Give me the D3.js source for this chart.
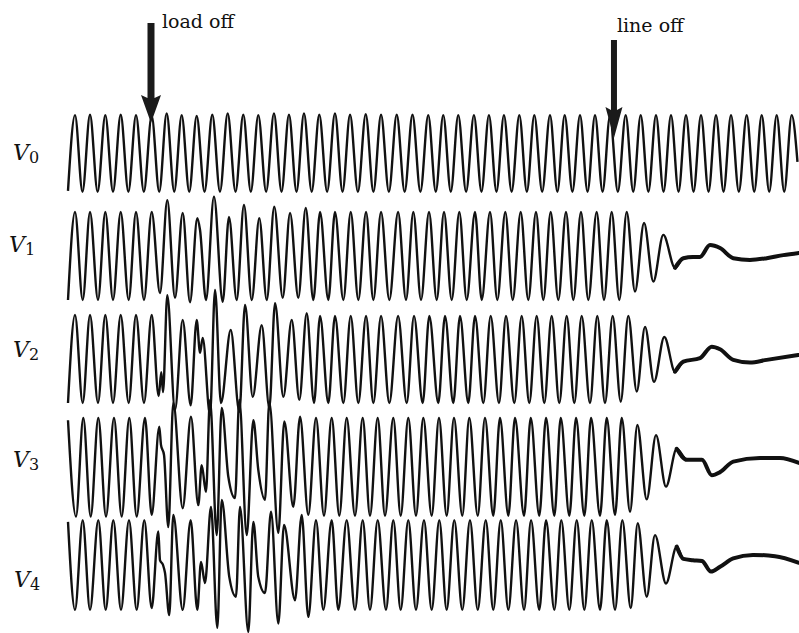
<!DOCTYPE html>
<html>
<head>
<meta charset="utf-8">
<script src="https://cdn.jsdelivr.net/npm/d3@7"></script>
<style>
  body { margin: 0; background: #fff; }
  svg { display: block; }
</style>
</head>
<body>
<div id="chart"></div>
<script>
// time in ms from start of record, voltage in per unit (extrema)
const traceNames = ["0", "1", "2", "3", "4"];

const v0 = [[0,-0.86],[9.2,0.86],[19,-0.88],[28.9,0.87],[38.9,-0.88],[49,0.86],[59.1,-0.88],[69.2,0.87],[79.3,-0.88],[89.3,0.86],[99.6,-0.88],[109.9,0.84],[119.8,-0.88],[129.6,0.9],[139.5,-0.88],[149.3,0.86],[159.2,-0.88],[169,0.84],[179.3,-0.88],[189.5,0.87],[199.6,-0.88],[209.7,0.9],[220,-0.88],[230.2,0.87],[240.1,-0.88],[249.9,0.86],[260.2,-0.88],[270.5,0.9],[280.4,-0.88],[290.2,0.87],[300.1,-0.88],[309.9,0.9],[320,-0.88],[330,0.87],[340.3,-0.88],[350.6,0.9],[360.5,-0.88],[370.4,0.87],[380.7,-0.88],[391,0.88],[401.1,-0.88],[411.1,0.87],[421.4,-0.88],[431.7,0.87],[442.1,-0.88],[452.4,0.87],[462.8,-0.88],[473.1,0.86],[483,-0.88],[492.8,0.86],[502.7,-0.88],[512.5,0.86],[522.8,-0.88],[533.1,0.86],[543,-0.88],[552.8,0.86],[562.7,-0.88],[572.5,0.86],[582.6,-0.88],[592.7,0.86],[602.6,-0.88],[612.4,0.86],[622.7,-0.88],[633,0.86],[642.7,-0.88],[652.3,0.86],[662.4,-0.88],[672.4,0.86],[682.3,-0.88],[692.1,0.86],[702,-0.88],[711.8,0.84],[722.1,-0.88],[732.4,0.86],[742.3,-0.88],[752.1,0.86],[762.2,-0.88],[772.2,0.86],[782.1,-0.88],[791.9,0.86],[801.8,-0.88],[811.6,0.86],[821.5,-0.88],[831.3,0.86],[841.2,-0.88],[851,0.86],[860.9,-0.88],[870.7,0.86],[881,-0.88],[891.3,0.86],[901.2,-0.88],[911,0.86],[920.9,-0.88],[930.7,0.86],[940.6,-0.88],[950.4,0.86],[958,-0.2]];

const v1 = [[0,-1],[9.2,1],[19.3,-1],[28.9,1],[39.4,-1],[49,1],[59.1,-1],[69.2,1],[79.7,-1],[89.3,1],[99.8,-1],[109.9,1],[120.8,-0.84],[130.4,1.27],[140.5,-0.95],[150.6,0.98],[160.2,-1.05],[169.8,0.86],[173.4,0.59],[181.2,-1],[191.7,1.35],[203.2,-1.04],[211.4,0.89],[221.5,-1],[231.1,1.16],[241.3,-1],[251.2,0.86],[261,-1],[270.9,1.12],[282,-0.95],[291.6,0.98],[302.5,-0.95],[312.2,1.09],[322.2,-1],[331,1],[341.9,-1],[350.6,1],[361.6,-1],[371.3,1],[381.3,-1],[391.4,1],[401,-1],[411.1,1],[422,-1],[433.5,1],[443.9,-1],[453.5,1],[463.6,-1],[474.1,1],[484.2,-1],[493.8,1],[503.9,-1],[513.9,1],[523.6,-1],[534.5,1],[543.3,-1],[554.2,1],[563.8,-1],[574.3,1],[584,-1],[594.5,1],[604.5,-1],[614.6,1],[624.2,-1],[633.9,1],[643.9,-1],[654,1],[663.6,-1],[673.7,1],[683.3,-1],[694.3,1],[703.9,-1],[714,1],[724,-1],[733.7,1],[744.6,-0.81],[756.5,0.75],[768.7,-0.58],[781.8,0.48],[797.2,-0.27],[808.1,-0.05],[820.8,-0.02],[830,-0.02],[843.1,0.25],[856.3,0.18],[873.7,-0.05],[895.6,-0.09],[917.6,-0.05],[939.4,0.02],[960,0.07]];

const v2 = [[0,-1],[9.2,1],[19.3,-1],[28.9,1],[39.4,-1],[49,1],[59.1,-1],[69.2,1],[79.7,-1],[89.3,1],[99.8,-1],[109.9,1],[119.1,-0.84],[122.5,-0.3],[124.8,-0.75],[130.4,1.45],[140.5,-1.16],[150.6,0.89],[161.1,-1.05],[169,0.89],[173.4,0.14],[176.9,0.48],[186.5,-1.27],[193.1,1.57],[200.9,-1],[213.7,0.66],[225,-1.2],[232.5,1.23],[242.6,-0.86],[254.4,0.77],[264.4,-1.11],[271.9,1.27],[282.8,-0.86],[293.8,0.89],[303.8,-0.93],[313.5,1.04],[323.1,-1],[331,0.98],[341.9,-1],[350.6,0.98],[361.6,-1],[371.3,0.98],[381.3,-1],[391.4,0.98],[401,-1],[411.1,0.98],[422,-1],[433.5,0.98],[444.8,-1],[454.4,0.98],[465.8,-1],[474.5,0.98],[486.3,-1],[495.1,0.98],[506,-1],[514.8,0.98],[525.7,-1],[534.5,0.98],[545.4,-1],[555.1,0.98],[566,-1],[575.2,0.98],[586.1,-1],[595.8,0.98],[605.8,-1],[615.5,0.98],[625.5,-1],[635.2,0.98],[645.2,-1],[654.9,0.98],[664.9,-1],[674.6,0.98],[685.5,-1],[695.1,0.98],[705.2,-1],[715.3,0.98],[725.9,-0.97],[735.8,0.98],[746.9,-0.74],[757.8,0.73],[769.6,-0.52],[783.1,0.5],[797.2,-0.29],[808.1,-0.06],[830,0.02],[845.4,0.28],[856.3,0.22],[873.7,-0.02],[895.6,-0.08],[917.6,-0.02],[959.1,0.09]];

const v3 = [[0,0.95],[10.5,-1.24],[20.1,1],[29.8,-1.24],[39.8,1],[49.9,-1.24],[60.4,1],[70.5,-1.24],[80.5,1],[90.2,-1.24],[101.1,1],[109.9,-1.2],[119.9,0.8],[122.1,0.39],[126.1,0.16],[131.7,-1.48],[138.3,1.34],[150.6,-1.05],[161.5,1.03],[171.1,-0.98],[175.6,-0.07],[181.2,-0.68],[186.5,1.41],[195.3,-1.66],[201.9,1.23],[210.5,-0.33],[219.3,-0.82],[225,1.41],[234.7,-1.66],[243.4,0.95],[249.9,-0.18],[258.7,-0.86],[264.4,1.36],[276.2,-1.61],[284.1,0.92],[295.9,-1.02],[304.7,1.03],[315.6,-1.2],[325.7,1],[336.2,-1.22],[346.3,1],[356.3,-1.22],[366,1],[376.9,-1.22],[387,1],[396.6,-1.22],[406.7,1],[416.3,-1.22],[427.2,1],[436.9,-1.22],[446.9,1],[457,-1.22],[466.6,1],[477.6,-1.22],[487.2,1],[497.3,-1.22],[506.9,1],[517.8,-1.22],[527,1],[538.1,-1.22],[547.6,1],[558.5,-1.22],[567.3,1],[578.3,-1.22],[587,1],[598.9,-1.22],[607.7,1],[618.9,-1.22],[627.8,1],[638.7,-1.22],[647.1,1],[658.4,-1.22],[667.2,1],[678.1,-1.22],[686.9,1],[698.7,-1.22],[707.5,1],[718.4,-1.2],[727.2,1],[738.1,-1.13],[747.7,0.84],[760,-0.85],[772.2,0.61],[785.3,-0.56],[799.4,0.3],[812.9,0.05],[832.6,0.05],[845.4,-0.3],[856.3,-0.23],[873.7,0.01],[908.8,0.09],[935,0.09],[960,-0.02]];

const v4 = [[0,0.98],[9.2,-1.02],[19.3,1.02],[28.9,-1.02],[39.8,1.02],[49.5,-1.02],[59.5,1.02],[69.6,-1.02],[80.1,1.02],[90.2,-1.02],[100.2,1.02],[109.9,-0.98],[118.6,0.76],[120.8,0.11],[124.8,0],[127.4,-0.18],[133,-1.14],[138.3,1.14],[150.6,-1.02],[161.1,1.02],[169.8,-1.02],[174.7,0.07],[179.9,-0.41],[187.8,1.32],[196.1,-1.43],[201.9,1.48],[211.8,-0.27],[220.6,-0.72],[225.9,1.32],[236.8,-1.52],[243.4,0.98],[249.9,-0.27],[258.7,-0.64],[266.6,1.21],[276.2,-1.33],[283.7,0.91],[298.1,-0.8],[306.9,1.14],[315.6,-1.18],[325.7,1.02],[335.3,-1.02],[346.3,1.02],[355,-1.02],[366,1.02],[376.9,-1.02],[387,1.02],[396.6,-1.02],[406.7,1.02],[417.6,-1.02],[427.2,1.02],[436.9,-1.02],[446.9,1.02],[457,-1.02],[467.5,1.02],[477.6,-1.02],[487.6,1.02],[497.3,-1.02],[507.3,1.02],[517.8,-1.02],[527.9,1.02],[538.1,-1.02],[548.6,1.02],[558.5,-1.02],[568.3,1.02],[578.3,-1.02],[588.4,1.02],[598.9,-1.02],[608.1,1.02],[618.9,-1.02],[627.8,1.02],[638.7,-1.02],[647.8,1.02],[658.4,-1.02],[668.1,1.02],[678.1,-1.02],[687.8,1.02],[698.7,-1.02],[707.5,1.02],[718.4,-1.02],[728,1.02],[739,-0.98],[748.2,0.95],[760,-0.72],[770.9,0.68],[785.3,-0.42],[799.4,0.42],[808.1,0.14],[820.8,0.11],[832.6,0.09],[844.4,-0.15],[856.3,-0.04],[873.7,0.15],[899.6,0.23],[928.5,0.2],[960,0.05]];

const traces = [v0, v1, v2, v3, v4];

// switching events (ms)
const eventNames = ["load off", "line off"];
const eventTimes = [109, 717];

// layout
const width = 799, height = 633;
const tailFrom = 797;
const labelX = [13, 9, 13, 13, 14];
const labelDy = [7, -4, -2, 5, 22];
const arrowTop = [23, 40];
const arrowTip = [123, 138];
const arrowHead = [{ w: 20, l: 25, s: 7 }, { w: 17, l: 28, s: 6 }];
const textDx = [11, 3];
const textY = [28, 32];

const x = d3.scaleLinear().domain([0, 960]).range([68, 799]);
const yc = d3.scalePoint().domain(traceNames).range([153, 565]);
const yv = d3.scaleLinear().domain([-1, 1]).range([44, -44]);

const svg = d3.select('#chart').append('svg')
  .attr('width', width)
  .attr('height', height)
  .style('background', '#fff');

traces.forEach((data, i) => {
  const name = traceNames[i];
  const line = d3.line()
    .x(d => x(d[0]))
    .y(d => yc(name) + yv(d[1]))
    .curve(d3.curveMonotoneX);

  svg.append('path')
    .datum(data)
    .attr('d', line)
    .attr('fill', 'none')
    .attr('stroke', '#111')
    .attr('stroke-width', 2.4)
    .attr('stroke-linejoin', 'round');

  // slow part after the line trips shows up heavier on the film
  const tail = data.filter(d => d[0] >= tailFrom);
  if (i > 0 && tail.length > 1) {
    svg.append('path')
      .datum(tail)
      .attr('d', line)
      .attr('fill', 'none')
      .attr('stroke', '#111')
      .attr('stroke-width', 4)
      .attr('stroke-linecap', 'round');
  }

  const lab = svg.append('text')
    .attr('x', labelX[i])
    .attr('y', yc(name) + labelDy[i])
    .attr('font-family', '"DejaVu Serif", serif')
    .attr('fill', '#111');
  lab.append('tspan')
    .attr('font-style', 'italic')
    .attr('font-size', 22)
    .text('V');
  lab.append('tspan')
    .attr('font-size', 16)
    .attr('dy', 3)
    .text(name);
});

// event arrows
eventNames.forEach((label, i) => {
  const ax = x(eventTimes[i]);
  const h = arrowHead[i];
  const tip = arrowTip[i], top = arrowTop[i];
  const base = tip - h.l;
  const pts = [
    [ax - h.s / 2, top], [ax + h.s / 2, top], [ax + h.s / 2, base],
    [ax + h.w / 2, base - 3], [ax, tip], [ax - h.w / 2, base - 3],
    [ax - h.s / 2, base]
  ];
  svg.append('path')
    .attr('d', 'M' + pts.map(p => p.join(',')).join('L') + 'Z')
    .attr('fill', '#1a1a1a');

  svg.append('text')
    .attr('x', ax + textDx[i])
    .attr('y', textY[i])
    .attr('font-family', '"DejaVu Serif", serif')
    .attr('font-size', 19)
    .attr('fill', '#111')
    .text(label);
});
</script>
</body>
</html>
